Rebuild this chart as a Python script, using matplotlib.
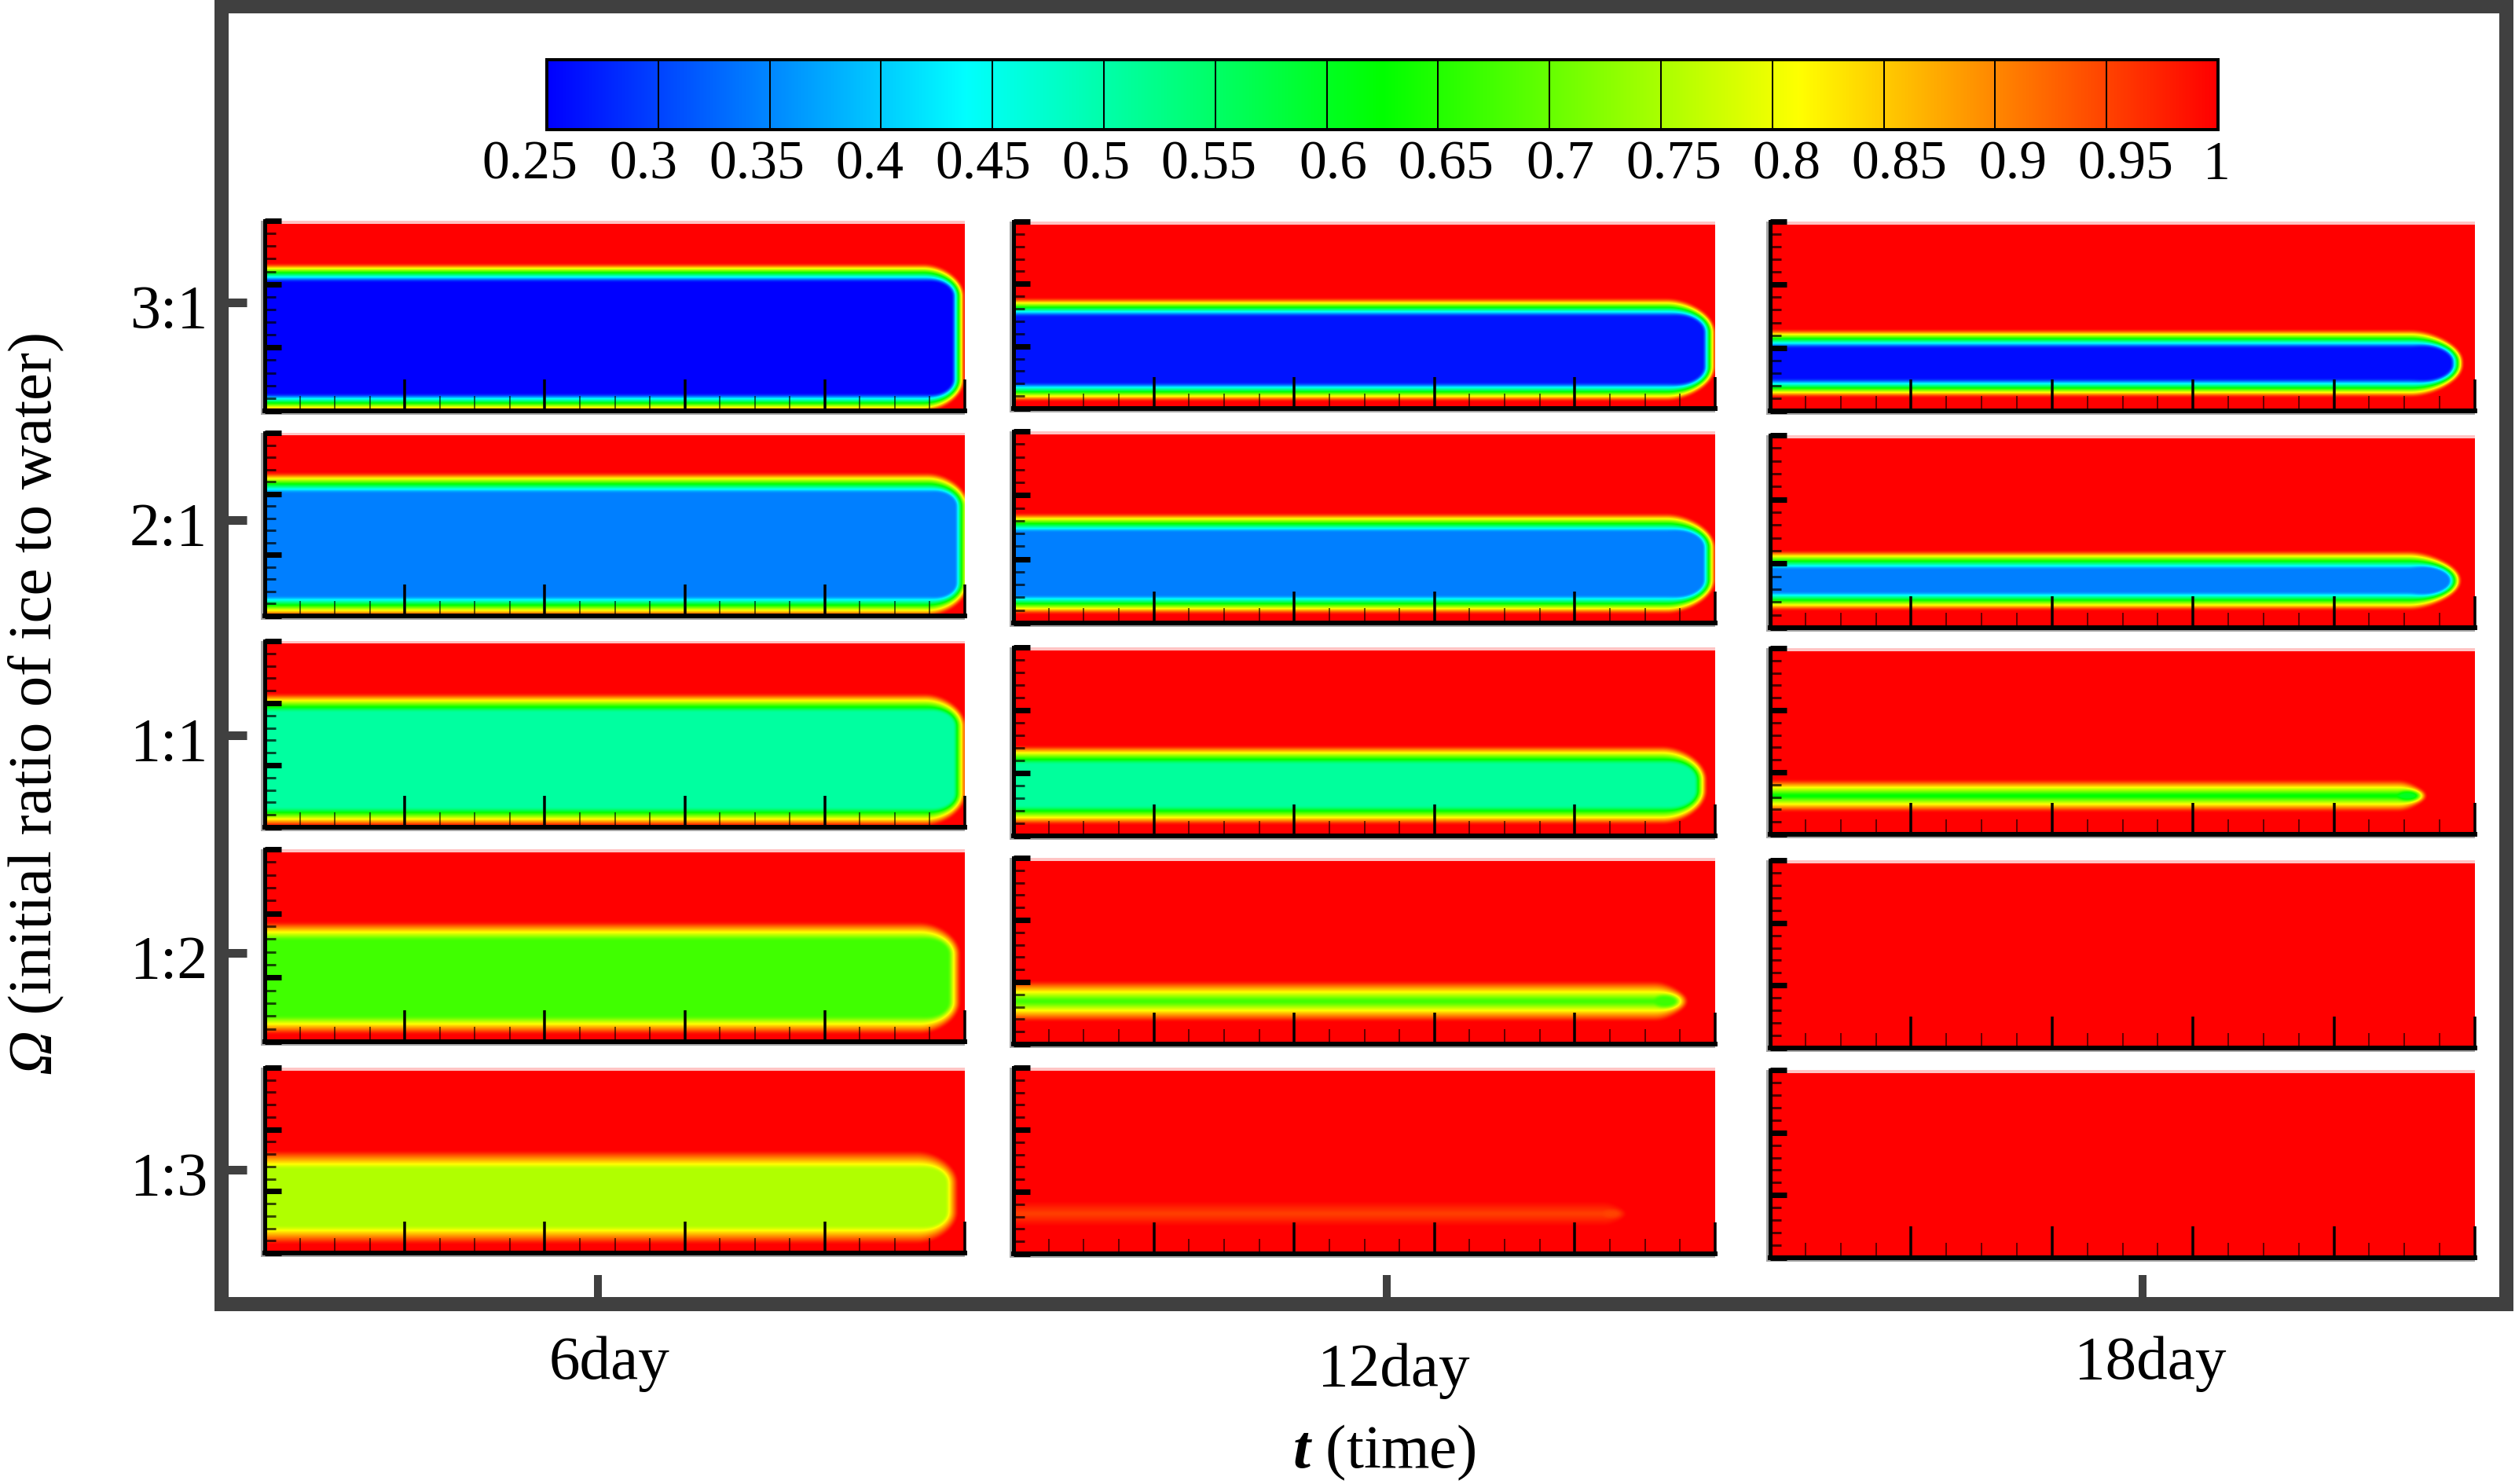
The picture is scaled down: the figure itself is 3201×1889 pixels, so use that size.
import numpy as np
import matplotlib
matplotlib.use("Agg")
import matplotlib.pyplot as plt
from matplotlib.colors import LinearSegmentedColormap, Normalize
from matplotlib.patches import Rectangle
from matplotlib.transforms import ScaledTranslation

plt.rcParams['font.family'] = ['Liberation Serif', 'DejaVu Serif']
plt.rcParams['mathtext.fontset'] = 'custom'
plt.rcParams['mathtext.rm'] = 'Liberation Serif'
plt.rcParams['mathtext.it'] = 'Liberation Serif:italic'
plt.rcParams['mathtext.bf'] = 'Liberation Serif:bold'
plt.rcParams['mathtext.bfit'] = 'Liberation Serif:italic:bold'

# ---------- data ----------
ratio_labels = ['3:1', '2:1', '1:1', '1:2', '1:3']
time_labels = ['6day', '12day', '18day']
cbar_values = [0.25, 0.3, 0.35, 0.4, 0.45, 0.5, 0.55, 0.6, 0.65, 0.7, 0.75, 0.8, 0.85, 0.9, 0.95, 1.0]
cbar_labels = ['0.25', '0.3', '0.35', '0.4', '0.45', '0.5', '0.55', '0.6', '0.65', '0.7', '0.75', '0.8', '0.85', '0.9', '0.95', '1']

# lowest value in the water slab of each panel (row, column); None: no slab left
core_value = [[0.25, 0.265, 0.26],
              [0.344, 0.344, 0.344],
              [0.507, 0.51, 0.60],
              [0.672, 0.67, None],
              [0.754, 0.95, None]]
# slab edges in panel units: x runs 0-5, y runs 0-3
slab_top = [[2.18, 1.626, 1.145],
            [2.176, 1.574, 1.058],
            [2.0, 1.29, 0.747],
            [1.727, 0.86, None],
            [1.513, 0.747, None]]
slab_bottom = [[0.124, 0.265, 0.361],
               [0.155, 0.283, 0.411],
               [0.165, 0.325, 0.494],
               [0.257, 0.52, None],
               [0.292, 0.544, None]]
slab_right = [[4.955, 4.96, 4.877],
              [4.983, 4.96, 4.861],
              [4.966, 4.90, 4.62],
              [4.927, 4.76, None],
              [4.91, 4.34, None]]
# tip corner sizes and half width of the ramp to 1, figure pixels
corner_rx = [[45, 55, 60], [45, 55, 60], [45, 50, 30], [45, 35, 1], [45, 25, 1]]
corner_ry = [[30, 32, 30], [30, 32, 30], [30, 32, 12], [30, 14, 1], [30, 8, 1]]
ramp_half = [[11, 11, 11], [12, 11, 11], [11, 11, 10], [11, 12, 1], [11, 8, 1]]

# colour scale
cmap_stops = [(0.25, '#0000ff'), (0.4375, '#00ffff'), (0.625, '#00ff00'), (0.8125, '#ffff00'), (1.0, '#ff0000')]

# ---------- layout, figure pixels ----------
W, H = 3201, 1890
panel_x = [(337, 1228), (1290, 2183), (2253, 3150)]
panel_y = [[(282, 524), (283, 521), (283, 524)],
           [(552, 785), (550, 794), (555, 800)],
           [(817, 1054), (825, 1065), (826, 1063)],
           [(1082, 1327), (1093, 1330), (1096, 1335)],
           [(1360, 1596), (1360, 1597), (1363, 1602)]]
frame_box = (282, 9, 3190, 1661)
frame_yticks = [386, 663, 937, 1214, 1490]
frame_xticks = [761, 1765, 2727]
time_label_pos = [(776, 1736), (1774, 1745), (2737, 1736)]
cbar_box = (696, 77, 2823, 166)
cbar_label_dx = [-22, -19, -16, -15, -12, -10, -8, 8, 10, 14, 16, 18, 20, 22, 24, -2]
GRAY = '#404040'
PT = 72 / 100


def add_axes(x0, y0, x1, y1, **kw):
    return fig.add_axes([x0 / W, 1 - y1 / H, (x1 - x0) / W, (y1 - y0) / H], **kw)


fig = plt.figure(figsize=(W / 100, H / 100), dpi=100, facecolor='white')

# outer frame
ax0 = add_axes(*frame_box)
ax0.set_xlim(frame_box[0], frame_box[2])
ax0.set_ylim(frame_box[3], frame_box[1])
for s in ax0.spines.values():
    s.set_linewidth(18 * PT)
    s.set_color(GRAY)
ax0.set_yticks(frame_yticks, ratio_labels)
ax0.set_xticks(frame_xticks, [''] * 3)
ax0.tick_params(axis='y', direction='in', length=32 * PT, width=11 * PT, color=GRAY, labelsize=56, pad=18 * PT)
ax0.tick_params(axis='x', direction='in', length=37 * PT, width=10 * PT, color=GRAY)
for tl in ax0.get_yticklabels():
    tl.set_transform(tl.get_transform() + ScaledTranslation(0, -4 / 100, fig.dpi_scale_trans))
for lab, (x, y) in zip(time_labels, time_label_pos):
    fig.text(x / W, 1 - y / H, lab, fontsize=57, ha='center', va='center')
fig.text(863 * 2.041 / W, 1 - 1849 / H, r'$\mathbfit{t}$ (time)', fontsize=57, ha='center', va='center')

# vertical title: italic symbol followed by the upright words
title_rest = fig.text(45 / W, 1 - 866 / H, ' (initial ratio of ice to water)', fontsize=56.5,
                      rotation=90, ha='center', va='center')
fig.canvas.draw()
ext = title_rest.get_window_extent()
fig.text(45 / W, ext.y0 / H, '\u03a9', fontsize=56.5, style='italic', rotation=90, ha='center', va='top')

# colour bar
cmap = LinearSegmentedColormap.from_list(
    'ice', [((v - 0.25) / 0.75, c) for v, c in cmap_stops], N=512)
norm = Normalize(0.25, 1.0)
axc = add_axes(*cbar_box)
axc.imshow(np.linspace(0.25, 1, 1024)[None, :], cmap=cmap, norm=norm, aspect='auto',
           extent=(0.25, 1, 0, 1), interpolation='bilinear')
axc.vlines(cbar_values, 0, 1, color='black', lw=2 * PT)
axc.set_xlim(0.25, 1)
axc.set_ylim(0, 1)
axc.set_xticks([])
axc.set_yticks([])
for s in axc.spines.values():
    s.set_linewidth(4 * PT)
for v, lab, dx in zip(cbar_values, cbar_labels, cbar_label_dx):
    axc.annotate(lab, (v, 0), xycoords=('data', 'axes fraction'), xytext=(dx * PT, -45 * PT),
                 textcoords='offset points', ha='center', va='center', fontsize=50)


def soften(f, n=5):
    """Box blur, edges padded, to match the soft look of the scanned field."""
    kernel = np.ones(n) / n
    pad = n // 2
    g = np.pad(f, pad, mode='edge')
    g = np.apply_along_axis(lambda a: np.convolve(a, kernel, mode='same'), 0, g)
    g = np.apply_along_axis(lambda a: np.convolve(a, kernel, mode='same'), 1, g)
    return g[pad:-pad, pad:-pad]


def panel_field(r, c, wpx, hpx):
    """Field of one panel from the slab values read for it."""
    field = np.ones((hpx, wpx))
    core = core_value[r][c]
    if core is None:
        return field
    ux, uy = wpx / 5, hpx / 3
    x = (np.arange(wpx) + 0.5)[None, :]
    y = (hpx - np.arange(hpx) - 0.5)[:, None]
    xr = slab_right[r][c] * ux
    yt, yb = slab_top[r][c] * uy, slab_bottom[r][c] * uy
    yc, hy = (yt + yb) / 2, (yt - yb) / 2
    w = ramp_half[r][c]
    rx = corner_rx[r][c]
    ry = min(corner_ry[r][c], hy)
    qx = (x - (xr - rx)) * ry / rx
    qy = np.abs(y - yc) - (hy - ry)
    qx, qy = np.broadcast_arrays(qx, qy)
    px, py = np.maximum(qx, 0), np.maximum(qy, 0)
    out = np.hypot(px, py)
    d = out + np.minimum(np.maximum(qx, qy), 0) - ry
    safe = np.where(out > 0, out, 1)
    cosang = np.where(out > 0, px / safe, (qx > qy).astype(float))
    k = 1.5 * rx / ry
    d = d * (1 + (k - 1) * cosang ** 2)
    return soften(core + (1 - core) * np.clip((d + w) / (2 * w), 0, 1))


# panels
top_gap = 4  # pale strip above the red fill, pixels
for r in range(5):
    for c in range(3):
        x0, x1 = panel_x[c]
        y0, y1 = panel_y[r][c]
        # soft grey edge left of and below each panel
        ax0.add_patch(Rectangle((x0 - 5, y0), x1 - x0 + 5, y1 - y0 + 5, fc='#a6a6a6', ec='none', zorder=1))
        ax = add_axes(x0, y0, x1, y1)
        ax.set_facecolor('#ffc4c4')
        f = panel_field(r, c, x1 - x0, y1 - y0)
        top = 3 - 3 * top_gap / (y1 - y0)
        ax.imshow(f[top_gap:, :], cmap=cmap, norm=norm, aspect='auto', extent=(0, 5, 0, top), interpolation='bilinear')
        ax.set_xlim(0, 5)
        ax.set_ylim(0, 3)
        ax.spines['top'].set_visible(False)
        ax.spines['right'].set_visible(False)
        ax.spines['left'].set_linewidth(5 * PT)
        ax.spines['bottom'].set_linewidth(6 * PT)
        ax.set_xticks(np.arange(0, 6))
        ax.set_yticks(np.arange(0, 4))
        ax.set_xticks(np.arange(0, 5.01, 0.25), minor=True)
        ax.set_yticks(np.arange(0, 3.01, 0.2), minor=True)
        ax.tick_params(axis='x', which='major', direction='in', length=40 * PT, width=3.5 * PT, labelbottom=False)
        ax.tick_params(axis='x', which='minor', direction='in', length=19 * PT, width=2 * PT, color=(0, 0, 0, 0.6))
        ax.tick_params(axis='y', which='major', direction='in', length=21 * PT, width=7 * PT, labelleft=False)
        ax.tick_params(axis='y', which='minor', direction='in', length=14 * PT, width=3 * PT, color=(0, 0, 0, 0.7))

fig.savefig('out.png', dpi=100, facecolor='white')
